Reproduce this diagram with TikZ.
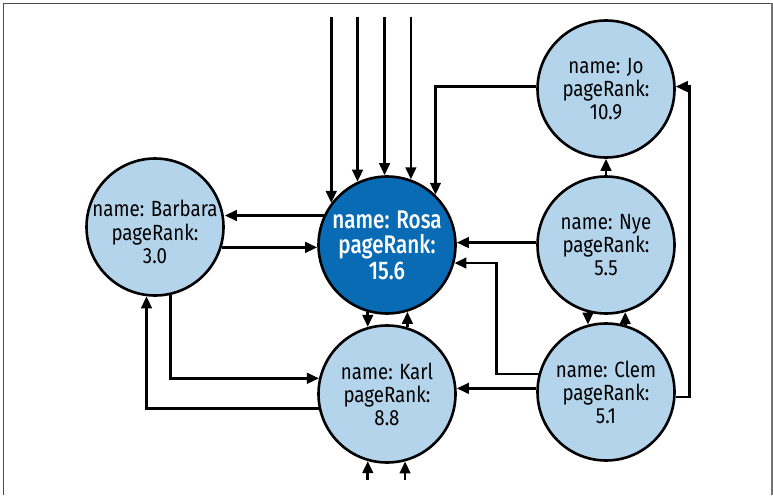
\documentclass[tikz,border=0pt]{standalone}
\usepackage{fontspec}
\setmainfont{Fira Sans}[FakeStretch=0.85]
\newfontfamily\rosafont{Fira Sans Medium}[FakeStretch=0.81]
\usepackage{xcolor}
\usetikzlibrary{arrows.meta}
\usetikzlibrary{shapes,backgrounds}
\definecolor{rankblue}{RGB}{179,212,234}
\definecolor{topblue}{RGB}{10,107,181}

\begin{document}
\begin{tikzpicture}[x=1pt,y=-1pt,>={Triangle[length=12pt,width=10.5pt]},line width=2.6pt,
                    node distance=150pt,
                    main node/.style={circle,draw,fill=rankblue,minimum size=137pt,inner sep=0pt,
                                      align=center,font=\fontsize{22}{23}\selectfont},
                    rosa node/.style={main node,fill=topblue,text=white,font=\rosafont\fontsize{25.5}{25.5}\selectfont}]

  \useasboundingbox (0,0) rectangle (773,495);
  \draw[line width=0.8pt,black!70] (3.5,495) -- (3.5,3) -- (771,3);
  \draw[line width=2.5pt,black!55] (772,3) -- (772,495);

  \node[rosa node] (rosa) at (387,245) {name: Rosa\\pageRank:\\15.6};
  \node[main node] (karl) [below of=rosa, node distance=149pt] {name: Karl\\pageRank:\\8.8};
  \node[main node] (barbara) [left of=rosa, node distance=232pt, yshift=18pt]
    {\raisebox{-13.5pt}[0pt][0pt]{\begin{tabular}{@{}c@{}}name: Barbara\\pageRank:\\3.0\end{tabular}}};
  \node[main node] (nye) [right of=rosa, node distance=219pt] {name: Nye\\pageRank:\\5.5};
  \node[main node] (jo) [above of=nye, node distance=156pt] {name: Jo\\pageRank:\\10.9};
  \node[main node] (clem) [below of=nye, node distance=147pt] {name: Clem\\pageRank:\\5.1};

  \coordinate (top) at (0,17);
  \coordinate (bottom) at (0,480);

  % links coming in from outside
  \foreach \a in {143.5,115.5,92.5,70}
    \draw[->] (rosa.\a |- top) -- (rosa.\a);
  \foreach \a in {254.2,285.8}
    \draw[->] (karl.\a |- bottom) -- (karl.\a);

  \draw[->] (rosa.155) -- (barbara.east |- rosa.155);
  \draw[->] (barbara.343) -- (rosa.west |- barbara.343);
  \draw[->] (barbara.283) |- (karl.167);
  \draw[->] (karl.192) -| (barbara.263);
  \draw[->] (rosa.254) -- (karl.106);
  \draw[->] (karl.73) -- (rosa.287);
  \draw[->] (jo.178) -| (rosa.46.5);
  \draw[->] (nye.178) -- (rosa.east |- nye.178);
  \draw[->] (clem.165) -- ++(-42,0) |- (rosa.345);
  \draw[->] (clem.177) -- (karl.east |- clem.177);
  \draw[->] (nye.255) -- (clem.105);
  \draw[->] (clem.74) -- (nye.286);
  \draw[->] (nye.north) -- (jo.south);
  \draw[->] (clem.356) -- ++(14,0) |- (jo.2);
\end{tikzpicture}
\end{document}
